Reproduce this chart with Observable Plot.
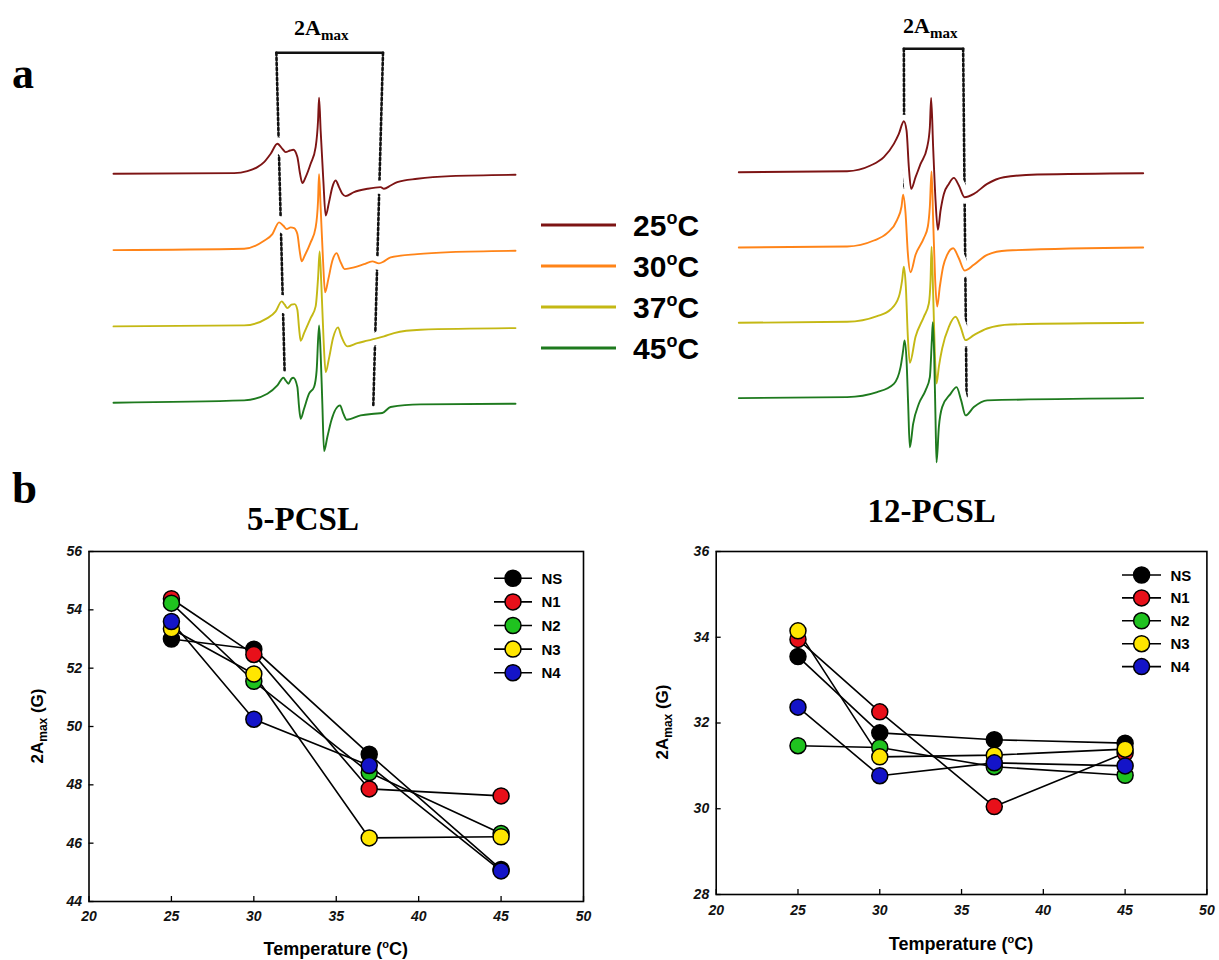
<!DOCTYPE html>
<html><head><meta charset="utf-8">
<script src="https://cdn.jsdelivr.net/npm/d3@7"></script>
<script src="https://cdn.jsdelivr.net/npm/@observablehq/plot@0.6"></script>
<style>
body{margin:0;background:#fff;}
#fig{position:relative;width:1219px;height:960px;overflow:hidden;background:#fff;}
</style></head><body><div id="fig"></div>
<script>
// ---------- DATA ----------
// (a) EPR spectra: [field (arb. G), derivative intensity (arb.)]
const temps = ["25", "30", "37", "45"];
const tempColors = ["#7d1414", "#ff8418", "#c4b814", "#1e7a1e"];

const spec5_25 = [[0,0],[120.7,0.7],[134,2.7],[144,6.7],[150.7,11.7],[157.3,20],[164,30],[169,25],[172.3,21.7],[176.7,23.3],[180,24],[184,16.7],[186.7,0],[189,-9.3],[192.3,-3.3],[197.3,10],[202.3,26.7],[204.7,53.3],[205.7,76],[207.3,43.3],[210,-6.7],[212.3,-41.7],[215.7,-28.3],[219,-13.3],[222.3,-6.7],[225.7,-13.3],[229,-20],[232.3,-22.3],[240.7,-18.3],[254,-15],[267.3,-13.3],[270.7,-15],[277.3,-11.7],[284,-8.3],[304,-5],[337.3,-2.3],[402.3,-1]];
const spec5_30 = [[0,0],[130.7,1.3],[150.7,9.3],[159,16],[165.7,27.7],[170,24.3],[173.3,21],[177.3,22.7],[180.7,22],[184,16],[186.3,-0.7],[188.3,-11.3],[191.3,-5.7],[197.3,7.7],[202.3,22.7],[204.7,49.3],[205.7,76],[207.3,42.7],[209.7,-10.7],[211.7,-42.3],[215,-29],[219,-10.7],[223.3,-3],[226.7,-10.7],[231.3,-19],[240.7,-17.3],[250.7,-14],[259,-11.3],[265.7,-13.3],[270.7,-11.3],[277.3,-7.3],[304,-4],[337.3,-2],[402.3,-0.7]];
const spec5_37 = [[0,0],[130.7,1],[154,8.3],[162.3,15],[168.3,25],[171.3,21.7],[174,18.3],[178,21.7],[181.3,22.3],[184,16.7],[185.7,-1.7],[187.3,-14.3],[190.7,-6.7],[197.3,8.3],[202.3,20],[204.7,48.3],[206.3,75],[208,41.7],[210.3,-15],[212.3,-45.7],[215.7,-31.7],[219.7,-11.7],[224.7,-1],[228,-10],[234,-20],[244,-16.7],[254,-14.3],[262.3,-12.3],[270.7,-10],[280.7,-6.7],[307.3,-3.3],[402.3,-1.7]];
const spec5_45 = [[0,0],[130.7,2.3],[154,9],[164,17.3],[170,25],[172.7,21.7],[175,19],[178,24],[180,25],[184,15.7],[185.7,-4.3],[187.3,-16],[190.7,-6],[195.7,9],[200.7,15.7],[203.3,32.3],[205.7,77.3],[207.3,49],[209,-1],[210.7,-48.3],[214,-34.3],[218,-17.7],[226.7,-2.7],[230,-11],[233.3,-17],[247.3,-12.7],[260.7,-11],[269,-10.3],[277.3,-4.3],[307.3,-1.7],[402.3,-1]];

const spec12_25 = [[0,0],[108.3,1],[131.7,6.7],[145,15],[155,28.3],[160,38.3],[165,51],[167.7,41.7],[170,5],[172.3,-16.7],[176.7,-5],[181.7,8.3],[188.3,25],[191,45],[192.3,74.3],[194.3,25],[196.7,-28.3],[199,-57.7],[201.7,-38.3],[205,-21.7],[210,-11.7],[215,-5.7],[220,-13.3],[225.7,-25],[235,-21.7],[248.3,-11.7],[265,-5],[298.3,-2.3],[404.3,-1]];
const spec12_30 = [[0,0],[108.3,1],[135,7],[148.3,14.3],[158.3,27.7],[162.7,41],[164.3,52.7],[166.7,34.3],[169,-5.7],[171.7,-24.7],[176.7,-7.3],[185,9.3],[189,21],[191,41],[192.7,76],[194.3,27.7],[196.3,-32.3],[198.3,-59],[201,-39],[204.3,-19],[208.3,-7.3],[214.3,-0.7],[220,-10.7],[225.7,-23],[235,-17.3],[248.3,-7.3],[268.3,-3],[404.3,0]];
const spec12_37 = [[0,0],[108.3,1],[138.3,6.7],[151.7,13.3],[160,26],[163.3,42.7],[165,56],[167,36],[169,-14],[171,-40],[176.7,-14],[185,6],[190,19.3],[191.7,42.7],[192.7,76],[194.3,29.3],[196,-30.7],[197.7,-60.7],[200,-44],[203.3,-25.7],[210,-4],[216.7,6],[221.7,-4],[226.7,-17.3],[235,-12.3],[248.3,-5.7],[271.7,-1.7],[404.3,0]];
const spec12_45 = [[0,0],[108.3,1],[138.3,6],[155,14.3],[161.7,31],[164.3,47.7],[165.7,57.7],[167.7,37.7],[169.3,-5.7],[171,-49.3],[174.3,-25.7],[180,-5.7],[186.7,7.7],[191,21],[193,57.7],[194,76],[195.3,44.3],[196.7,-22.3],[197.7,-64.3],[200,-29],[203.3,-9],[211.7,4.3],[217.7,11],[222.3,-2.3],[226.7,-17.3],[235,-9],[248.3,-2.3],[404.3,0]];

// 2Amax guide lines: [field, level] (top, bottom)
const amax5Low = [[163, 121], [171.3, -200]];
const amax5High = [[269.7, 121], [260, -231.7]];
const amax12Low = [[165, 123.4], [166, -161.3]];
const amax12High = [[224.3, 123.4], [227.7, -225]];

// (b) 2Amax vs temperature
const temperatures = [25, 30, 37, 45];
const series = ["NS", "N1", "N2", "N3", "N4"];
const seriesColors = ["#000000", "#e8101a", "#1fc21f", "#ffe600", "#1414c8"];
const pcsl5_NS = [53.0, 52.65, 49.05, 45.1];
const pcsl5_N1 = [54.38, 52.47, 47.86, 47.62];
const pcsl5_N2 = [54.23, 51.55, 48.42, 46.33];
const pcsl5_N3 = [53.35, 51.8, 46.18, 46.22];
const pcsl5_N4 = [53.6, 50.25, 48.66, 45.05];
const pcsl12_NS = [33.55, 31.77, 31.61, 31.53];
const pcsl12_N1 = [33.95, 32.26, 30.05, 31.3];
const pcsl12_N2 = [31.47, 31.43, 30.98, 30.78];
const pcsl12_N3 = [34.15, 31.21, 31.25, 31.39];
const pcsl12_N4 = [32.37, 30.77, 31.07, 31.0];
const xTicks = [20, 25, 30, 35, 40, 45, 50];
const yTicks5 = [44, 46, 48, 50, 52, 54, 56];
const yTicks12 = [28, 30, 32, 34, 36];

// ---------- DRAWING ----------
const fig = document.getElementById("fig");
const serif = "'Liberation Serif','Times New Roman',serif";
const sans = "'Liberation Sans',Arial,Helvetica,sans-serif";

function place(node, left, top) {
  node.style.position = "absolute";
  node.style.left = left + "px";
  node.style.top = top + "px";
  fig.appendChild(node);
}

function spectra({traces, step, width, marginLeft, marginRight, top0, fieldMax, low, high}) {
  const rows = traces.flatMap((tr, i) => tr.map(([f, a]) => ({f, v: a - i * step, temp: temps[i]})));
  const gx = d => d[0], gy = d => d[1];
  return Plot.plot({
    width, height: 470, margin: 0, marginLeft, marginRight,
    style: {background: "transparent", overflow: "visible"},
    x: {domain: [0, fieldMax], axis: null},
    y: {domain: [top0 - 470, top0], axis: null},
    color: {domain: temps, range: tempColors},
    marks: [
      Plot.line(low, {x: gx, y: gy, stroke: "#111", strokeWidth: 2.6, strokeDasharray: "2.4,2.6"}),
      Plot.line(high, {x: gx, y: gy, stroke: "#111", strokeWidth: 2.6, strokeDasharray: "2.4,2.6"}),
      Plot.line([low[0], high[0]], {x: gx, y: gy, stroke: "#111", strokeWidth: 2.6}),
      // white halo so the dotted guides break where they cross a trace
      Plot.line(rows, {x: "f", y: "v", z: "temp", stroke: "white", strokeWidth: 13, curve: "monotone-x"}),
      Plot.line(rows, {x: "f", y: "v", z: "temp", stroke: "temp", strokeWidth: 1.9, curve: "monotone-x"})
    ]
  });
}

place(spectra({traces: [spec5_25, spec5_30, spec5_37, spec5_45], step: 76.3, width: 530,
  marginLeft: 113, marginRight: 15, top0: 173.3, fieldMax: 402.3, low: amax5Low, high: amax5High}), 0, 0);
place(spectra({traces: [spec12_25, spec12_30, spec12_37, spec12_45], step: 75.3, width: 560,
  marginLeft: 138.3, marginRight: 17.3, top0: 171.7, fieldMax: 404.3, low: amax12Low, high: amax12High}), 600, 0);

function scatter({values, yDomain, yTicks, width, marginLeft, marginRight, marginBottom, xPad}) {
  const rows = series.flatMap((s, i) => temperatures.map((t, j) => ({s, t, v: values[i][j]})));
  const height = 430, marginTop = 21;
  const frameW = width - marginLeft - marginRight;
  const frameH = height - marginTop - marginBottom;
  return Plot.plot({
    width, height, marginLeft, marginRight, marginTop, marginBottom,
    style: {background: "transparent", fontFamily: sans, fontSize: "14px", fontStyle: "italic", fontWeight: "bold", color: "#111", overflow: "visible"},
    x: {domain: [20, 50], ticks: xTicks, tickSize: 0, tickPadding: xPad, tickFormat: d => String(d), label: null},
    y: {domain: yDomain, ticks: yTicks, tickSize: 0, tickPadding: 7, tickFormat: d => String(d), label: null},
    color: {domain: series, range: seriesColors},
    marks: [
      Plot.tickY(yTicks, {y: d => d, stroke: "#000", strokeWidth: 1.3, insetRight: frameW - 5}),
      Plot.tickX(xTicks, {x: d => d, stroke: "#000", strokeWidth: 1.3, insetTop: frameH - 5}),
      Plot.line(rows, {x: "t", y: "v", z: "s", stroke: "#000", strokeWidth: 1.6}),
      Plot.dot(rows, {x: "t", y: "v", fill: "s", r: 8, stroke: "#000", strokeWidth: 1.5}),
      Plot.frame({stroke: "#000", strokeWidth: 1.6})
    ]
  });
}

place(scatter({values: [pcsl5_NS, pcsl5_N1, pcsl5_N2, pcsl5_N3, pcsl5_N4], yDomain: [44, 56], yTicks: yTicks5,
  width: 600, marginLeft: 88.5, marginRight: 17, marginBottom: 59, xPad: 10}), 0, 530);
place(scatter({values: [pcsl12_NS, pcsl12_N1, pcsl12_N2, pcsl12_N3, pcsl12_N4], yDomain: [28, 36], yTicks: yTicks12,
  width: 619, marginLeft: 115.7, marginRight: 12.6, marginBottom: 66, xPad: 11}), 600, 530);

// ---------- TEXT / LEGENDS OVERLAY ----------
const ov = d3.create("svg").attr("width", 1219).attr("height", 960).style("pointer-events", "none");
function txt(x, y, size, family, weight, anchor) {
  return ov.append("text").attr("x", x).attr("y", y).attr("font-size", size)
    .attr("font-family", family).attr("font-weight", weight)
    .attr("text-anchor", anchor || "start").attr("fill", "#000");
}
txt(12, 88, 44, serif, "bold").text("a");
txt(12, 503, 45, serif, "bold").text("b");
txt(303, 530, 33, serif, "bold", "middle").text("5-PCSL");
txt(931.7, 522, 33, serif, "bold", "middle").text("12-PCSL");

function amaxLabel(x, y) {
  const t = txt(x, y, 22, serif, "bold");
  t.append("tspan").text("2A");
  t.append("tspan").attr("font-size", 15).attr("dy", 5).text("max");
}
amaxLabel(294, 35);
amaxLabel(903, 33);

temps.forEach((t, i) => {
  const y = 225 + i * 41;
  ov.append("line").attr("x1", 541).attr("x2", 616).attr("y1", y).attr("y2", y)
    .attr("stroke", tempColors[i]).attr("stroke-width", 3.2);
  const tx = txt(633, y + 11, 30, sans, "bold");
  tx.append("tspan").text(t);
  tx.append("tspan").attr("font-size", 18).attr("dy", -12).text("o");
  tx.append("tspan").attr("dy", 12).text("C");
});

function ylab(cx, cy) {
  const t = ov.append("text").attr("transform", `translate(${cx},${cy}) rotate(-90)`)
    .attr("text-anchor", "middle").attr("font-family", sans).attr("font-weight", "bold")
    .attr("font-size", 17).attr("fill", "#000");
  t.append("tspan").text("2A");
  t.append("tspan").attr("font-size", 12).attr("dy", 4).text("max");
  t.append("tspan").attr("dy", -4).text(" (G)");
}
ylab(43, 726);
ylab(668, 722);

function xlab(cx, y) {
  const t = txt(cx, y, 18, sans, "bold", "middle");
  t.append("tspan").text("Temperature (");
  t.append("tspan").attr("font-size", 11).attr("dy", -7).text("o");
  t.append("tspan").attr("dy", 7).text("C)");
}
xlab(335.7, 955);
xlab(961, 950);

function slegend(x1, x2, xm, xt, y0, dy) {
  series.forEach((s, i) => {
    const y = y0 + i * dy;
    ov.append("line").attr("x1", x1).attr("x2", x2).attr("y1", y).attr("y2", y)
      .attr("stroke", "#000").attr("stroke-width", 1.6);
    ov.append("circle").attr("cx", xm).attr("cy", y).attr("r", 8)
      .attr("fill", seriesColors[i]).attr("stroke", "#000").attr("stroke-width", 1.5);
    txt(xt, y + 5.5, 15, sans, "bold").text(s);
  });
}
slegend(494, 532, 513, 541.5, 578.3, 23.6);
slegend(1122, 1161, 1141.6, 1170.5, 575, 22.9);

place(ov.node(), 0, 0);
</script>
</body></html>
